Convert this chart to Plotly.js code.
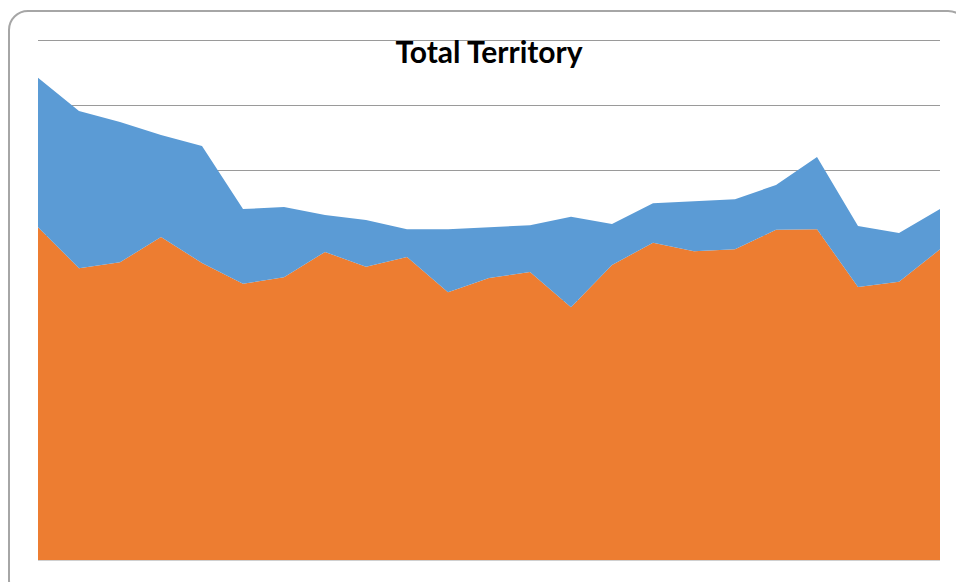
<!DOCTYPE html>
<html>
<head>
<meta charset="utf-8">
<script src="https://cdn.plot.ly/plotly-3.0.1.min.js"></script>
<style>
  body { margin: 0; background: #fff; overflow: hidden; }
  #wrap { position: relative; width: 956px; height: 582px; overflow: hidden; }
  #chart { position: absolute; left: 0; top: 0; width: 956px; height: 582px; }
  #frame {
    position: absolute; left: 8px; top: 10px; width: 960px; height: 590px;
    border: 2px solid #a6a6a6; border-radius: 20px; pointer-events: none;
    box-sizing: border-box;
  }
</style>
</head>
<body>
<div id="wrap">
  <div id="chart"></div>
  <div id="frame"></div>
</div>
<script>
// 23 periods, no axis labels shown in the original
const periods = Array.from({length: 23}, (_, i) => i + 1);

// bottom series (orange)
const baseValues = [5.12, 4.49, 4.58, 4.97, 4.57, 4.25, 4.35, 4.74, 4.51, 4.66, 4.12, 4.34,
                    4.43, 3.89, 4.54, 4.88, 4.75, 4.78, 5.08, 5.09, 4.20, 4.28, 4.78];
// stacked series on top (blue)
const extraValues = [2.30, 2.42, 2.16, 1.57, 1.80, 1.15, 1.08, 0.57, 0.72, 0.43, 0.97, 0.78,
                     0.72, 1.39, 0.63, 0.61, 0.77, 0.77, 0.69, 1.11, 0.94, 0.75, 0.62];

const traces = [
  {
    x: periods, y: baseValues, type: 'scatter', mode: 'lines',
    stackgroup: 'one', line: {width: 0, color: '#ED7D31'}, fillcolor: '#ED7D31',
    name: 'Series 1', hoverinfo: 'skip'
  },
  {
    x: periods, y: extraValues, type: 'scatter', mode: 'lines',
    stackgroup: 'one', line: {width: 0, color: '#5B9BD5'}, fillcolor: '#5B9BD5',
    name: 'Series 2', hoverinfo: 'skip'
  }
];

const layout = {
  width: 956, height: 582,
  margin: {l: 38, r: 16, t: 39, b: 22},
  paper_bgcolor: '#fff', plot_bgcolor: '#fff',
  showlegend: false,
  title: {
    text: '<b>Total Territory</b>',
    font: {family: 'Lato, sans-serif', size: 30, color: '#000'},
    x: 0.5115, xanchor: 'center', y: 0.909, yanchor: 'middle'
  },
  xaxis: {
    range: [1, 23], showticklabels: false, ticks: '', showgrid: false,
    zeroline: false, showline: true, linecolor: '#d0d0d0', linewidth: 1
  },
  yaxis: {
    range: [0, 8.016], dtick: 1, showticklabels: false, ticks: '',
    showgrid: true, gridcolor: '#9a9a9a', gridwidth: 1, zeroline: false, layer: 'below traces'
  }
};

Plotly.newPlot('chart', traces, layout, {staticPlot: true});
</script>
</body>
</html>
